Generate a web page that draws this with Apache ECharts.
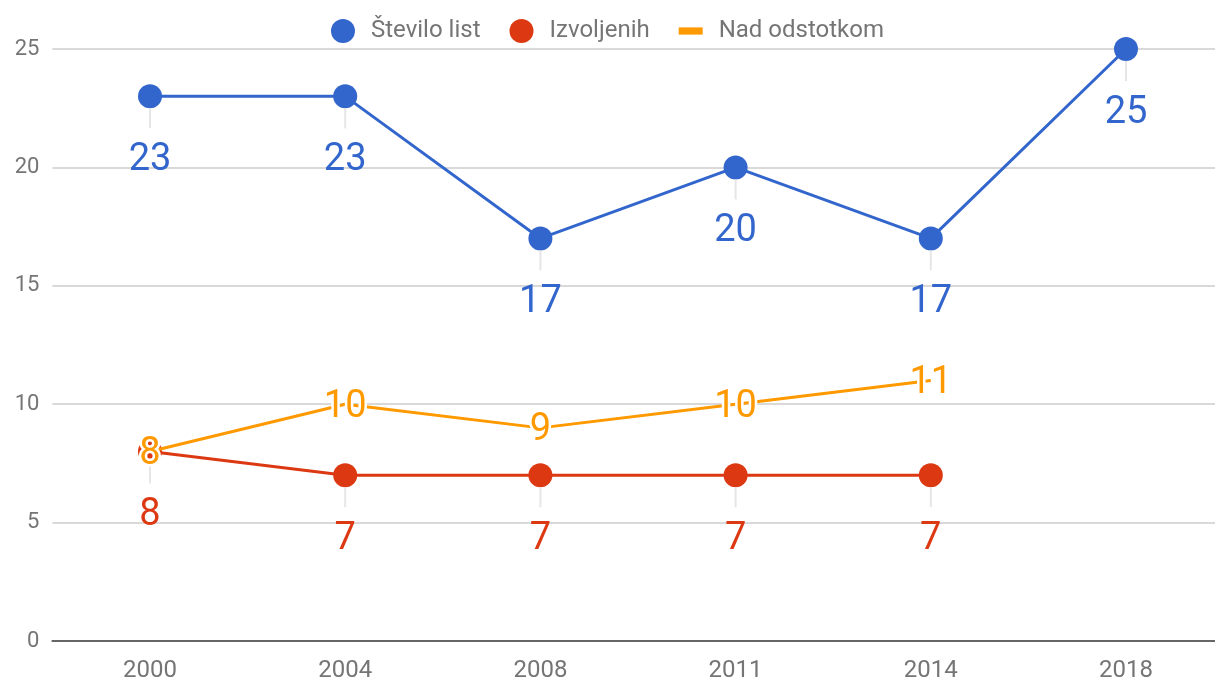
<!DOCTYPE html>
<html>
<head>
<meta charset="utf-8">
<script src="https://cdn.jsdelivr.net/npm/echarts@6/dist/echarts.min.js"></script>
<style>
html,body{margin:0;padding:0;background:#fff;}
#chart{width:1215px;height:679px;}
</style>
</head>
<body>
<div id="chart"></div>
<script>
var categories = ['2000', '2004', '2008', '2011', '2014', '2018'];
var steviloList = [23, 23, 17, 20, 17, 25];
var izvoljenih = [8, 7, 7, 7, 7, null];
var nadOdstotkom = [8, 10, 9, 10, 11, null];
var yTicks = [0, 5, 10, 15, 20, 25];

var FONT = 'Roboto';
var BLUE = '#3366cc', RED = '#dc3912', ORANGE = '#ff9900';

function stemLabel(color) {
  return {
    show: true,
    position: 'bottom',
    distance: 0,
    formatter: function (p) { return '{s|}\n{v|' + p.value + '}'; },
    rich: {
      s: { width: 2, height: 20, backgroundColor: '#e6e6e6' },
      v: { fontSize: 38, color: color, fontFamily: FONT, lineHeight: 64 }
    }
  };
}

var chart = echarts.init(document.getElementById('chart'), null, { renderer: 'canvas' });
chart.setOption({
  animation: false,
  backgroundColor: '#fff',
  textStyle: { fontFamily: FONT },
  legend: {
    top: 14,
    left: 'center',
    itemWidth: 24,
    itemHeight: 24,
    itemGap: 29,
    symbolKeepAspect: true,
    textStyle: { fontSize: 24, color: '#757575', fontFamily: FONT, padding: [0, 0, 0, 11] },
    data: [
      { name: 'Število list', icon: 'circle' },
      { name: 'Izvoljenih', icon: 'circle' },
      { name: 'Nad odstotkom', icon: 'path://M0,0h20v6h-20z', itemStyle: { color: ORANGE } }
    ]
  },
  grid: { left: 52.4, width: 1171.2, top: 49, bottom: 38, containLabel: false, outerBoundsMode: 'none' },
  xAxis: {
    type: 'category',
    data: categories,
    boundaryGap: true,
    axisLine: { lineStyle: { color: '#666', width: 2 } },
    axisTick: { show: false },
    axisLabel: { fontSize: 24, color: '#757575', margin: 18, fontFamily: FONT }
  },
  yAxis: {
    type: 'value',
    min: yTicks[0],
    max: yTicks[yTicks.length - 1],
    interval: yTicks[1] - yTicks[0],
    axisLine: { show: false },
    axisTick: { show: false },
    axisLabel: { fontSize: 22, color: '#757575', margin: 13, fontFamily: FONT },
    splitLine: { lineStyle: { color: '#cccccc', width: 1.5 } }
  },
  series: [
    {
      name: 'Število list',
      type: 'line',
      data: steviloList,
      color: BLUE,
      symbol: 'circle',
      symbolSize: 24,
      lineStyle: { width: 3, color: BLUE },
      itemStyle: { color: BLUE, borderWidth: 0 },
      label: stemLabel(BLUE),
      z: 2
    },
    {
      name: 'Izvoljenih',
      type: 'line',
      data: izvoljenih,
      color: RED,
      symbol: 'circle',
      symbolSize: 24,
      lineStyle: { width: 3, color: RED },
      itemStyle: { color: RED, borderWidth: 0 },
      label: stemLabel(RED),
      z: 3
    },
    {
      name: 'Nad odstotkom',
      type: 'line',
      data: nadOdstotkom,
      color: ORANGE,
      symbol: 'circle',
      symbolSize: 0.01,
      lineStyle: { width: 3, color: ORANGE },
      itemStyle: { color: ORANGE, borderWidth: 0 },
      label: {
        show: true,
        position: 'inside',
        offset: [0, 3],
        fontSize: 38,
        color: ORANGE,
        fontFamily: FONT,
        textBorderColor: '#fff',
        textBorderWidth: 5
      },
      z: 4
    }
  ]
});
</script>
</body>
</html>
